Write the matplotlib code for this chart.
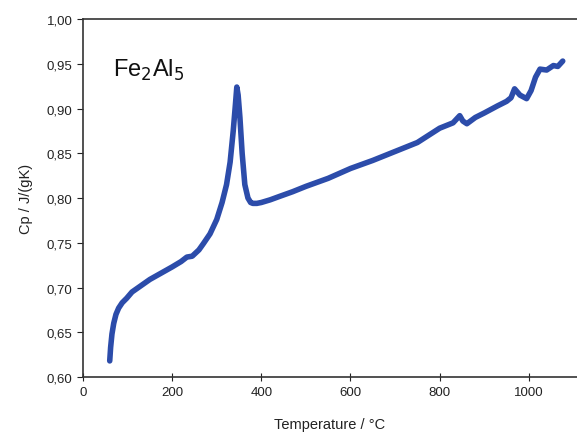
import matplotlib
matplotlib.use("Agg")
import matplotlib.pyplot as plt
from matplotlib.ticker import FuncFormatter

plt.rcParams['font.family'] = ['Liberation Sans', 'DejaVu Sans']

# values
temperature = [60, 62, 65, 69, 74, 80, 88, 98, 110, 130, 150, 175, 200, 220, 233, 245,
               260, 270, 285, 300, 312, 322, 330, 337, 342, 345, 348, 352, 357, 363,
               370, 376, 381, 390, 400, 420, 442, 470, 500, 550, 600, 650, 700, 750,
               800, 830, 845, 852, 861, 880, 900, 930, 950, 960, 968, 980, 995, 1005,
               1015, 1025, 1040, 1055, 1065, 1076]
cp = [0.618, 0.633, 0.648, 0.660, 0.670, 0.677, 0.683, 0.688, 0.695, 0.702, 0.709, 0.716,
      0.723, 0.729, 0.734, 0.735, 0.742, 0.749, 0.760, 0.776, 0.795, 0.815, 0.840,
      0.875, 0.905, 0.924, 0.915, 0.890, 0.850, 0.815, 0.800, 0.795, 0.794, 0.794,
      0.795, 0.798, 0.802, 0.807, 0.813, 0.822, 0.833, 0.842, 0.852, 0.862, 0.878,
      0.884, 0.892, 0.886, 0.883, 0.890, 0.895, 0.903, 0.908, 0.912, 0.922, 0.915,
      0.911, 0.920, 0.935, 0.944, 0.943, 0.948, 0.947, 0.953]

fig = plt.figure(figsize=(5.77, 4.35), dpi=100)
ax = fig.add_axes([0.1438, 0.131, 0.8562, 0.823])

ax.plot(temperature, cp, color='#2c4caa', lw=4, solid_capstyle='round')

ax.set_xlim(0, 1108)
ax.set_ylim(0.60, 1.00)
ax.set_xticks([0, 200, 400, 600, 800, 1000])
ax.set_yticks([0.60, 0.65, 0.70, 0.75, 0.80, 0.85, 0.90, 0.95, 1.00])
ax.yaxis.set_major_formatter(FuncFormatter(lambda v, p: f"{v:.2f}".replace('.', ',')))

for s in ['left', 'top', 'bottom']:
    ax.spines[s].set_color('#333333')
    ax.spines[s].set_linewidth(1.2)
ax.spines['right'].set_visible(False)

ax.tick_params(axis='y', direction='out', length=4, labelsize=9.5, colors='#222222')
ax.tick_params(axis='x', direction='inout', length=6, labelsize=9.5, colors='#222222')

ax.set_xlabel('Temperature / °C', fontsize=10.5, color='#222222', labelpad=14)
ax.set_ylabel('Cp / J/(gK)', fontsize=10.5, color='#222222', labelpad=10)

ax.text(0.06, 0.86, 'Fe$_2$Al$_5$', transform=ax.transAxes, fontsize=17,
        color='#111111', ha='left', va='center')

fig.savefig('out.png', dpi=100)
